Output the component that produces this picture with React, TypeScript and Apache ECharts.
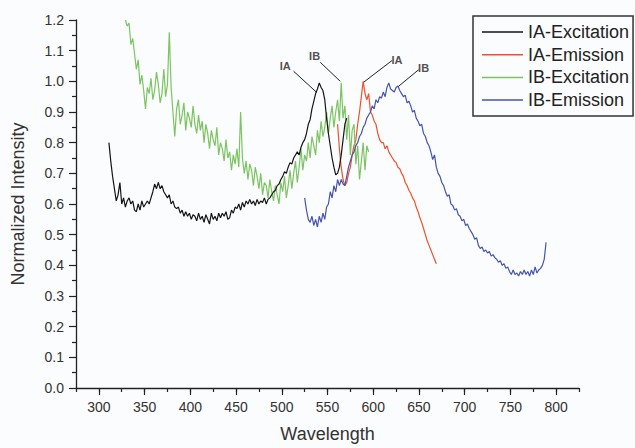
import React, { useEffect, useRef } from "react";
import * as echarts from "echarts";

// Sampling grids (start wavelength, step in nm)
const iaExStart = 311;
const ibExStart = 329;
const iaEmStart = 561;
const ibEmStart = 525;
const STEP = 2;

const iaExcitation = [
  0.80, 0.74, 0.69, 0.65, 0.61, 0.63, 0.67, 0.60, 0.62, 0.59, 0.61, 0.62, 0.60, 0.61, 0.58, 0.575,
  0.60, 0.58, 0.61, 0.59, 0.60, 0.61, 0.60, 0.62, 0.64, 0.665, 0.65, 0.67, 0.65, 0.66, 0.64, 0.63,
  0.62, 0.63, 0.60, 0.61, 0.59, 0.585, 0.59, 0.57, 0.58, 0.56, 0.575, 0.56, 0.57, 0.55, 0.565, 0.56,
  0.545, 0.57, 0.55, 0.56, 0.54, 0.565, 0.55, 0.535, 0.57, 0.55, 0.56, 0.545, 0.57, 0.555, 0.57, 0.56,
  0.575, 0.55, 0.555, 0.58, 0.57, 0.59, 0.585, 0.60, 0.58, 0.605, 0.59, 0.61, 0.60, 0.615, 0.60, 0.61,
  0.595, 0.615, 0.60, 0.61, 0.605, 0.62, 0.60, 0.615, 0.62, 0.63, 0.64, 0.645, 0.66, 0.665, 0.68, 0.69,
  0.705, 0.70, 0.72, 0.735, 0.73, 0.75, 0.76, 0.77, 0.76, 0.785, 0.80, 0.81, 0.83, 0.86, 0.875, 0.91,
  0.935, 0.96, 0.975, 0.995, 0.98, 0.97, 0.94, 0.88, 0.83, 0.79, 0.75, 0.72, 0.695, 0.70, 0.72, 0.76,
  0.81, 0.86, 0.88,
];

const iaEmission = [
  0.86, 0.78, 0.72, 0.68, 0.66, 0.67, 0.70, 0.72, 0.76, 0.79, 0.81, 0.86, 0.90, 0.95, 1.0, 0.96,
  0.94, 0.96, 0.90, 0.89, 0.87, 0.86, 0.83, 0.81, 0.80, 0.80, 0.78, 0.79, 0.77, 0.76, 0.75, 0.74,
  0.735, 0.72, 0.715, 0.70, 0.69, 0.67, 0.66, 0.645, 0.635, 0.62, 0.61, 0.59, 0.575, 0.555, 0.54, 0.52,
  0.50, 0.48, 0.465, 0.45, 0.435, 0.42, 0.405,
];

const ibExcitation = [
  1.20, 1.18, 1.19, 1.12, 1.14, 1.09, 1.04, 1.07, 0.99, 1.02, 0.97, 0.91, 0.98, 0.96, 1.01, 0.94,
  0.97, 1.03, 0.99, 0.93, 0.96, 1.04, 0.95, 0.99, 1.16, 0.98, 0.90, 0.82, 0.91, 0.94, 0.86, 0.89,
  0.93, 0.84, 0.90, 0.88, 0.85, 0.92, 0.86, 0.83, 0.89, 0.84, 0.87, 0.80, 0.86, 0.83, 0.78, 0.84,
  0.81, 0.79, 0.85, 0.76, 0.80, 0.78, 0.74, 0.81, 0.75, 0.77, 0.71, 0.76, 0.73, 0.78, 0.72, 0.90,
  0.75, 0.70, 0.74, 0.68, 0.73, 0.71, 0.66, 0.72, 0.69, 0.65, 0.70, 0.63, 0.67, 0.66, 0.62, 0.68,
  0.64, 0.61, 0.66, 0.63, 0.60, 0.67, 0.64, 0.69, 0.62, 0.66, 0.71, 0.65, 0.70, 0.74, 0.67, 0.72,
  0.78, 0.71, 0.76, 0.74, 0.80, 0.75, 0.82, 0.79, 0.76, 0.84, 0.80, 0.87, 0.82, 0.85, 0.90, 0.83,
  0.88, 0.92, 0.85, 0.90, 0.94, 0.87, 0.995, 0.88, 0.92, 0.81, 0.89, 0.76, 0.84, 0.86, 0.73, 0.79,
  0.68, 0.74, 0.80, 0.71, 0.79, 0.77,
];

const ibEmission = [
  0.62, 0.58, 0.55, 0.54, 0.56, 0.53, 0.55, 0.525, 0.56, 0.54, 0.57, 0.55, 0.59, 0.60, 0.64, 0.62,
  0.66, 0.64, 0.68, 0.66, 0.68, 0.665, 0.66, 0.69, 0.72, 0.74, 0.76, 0.77, 0.79, 0.80, 0.82, 0.83,
  0.85, 0.86, 0.88, 0.89, 0.90, 0.92, 0.91, 0.94, 0.93, 0.95, 0.945, 0.965, 0.95, 0.98, 0.995, 0.975,
  0.97, 0.965, 0.98, 0.985, 0.97, 0.96, 0.95, 0.955, 0.93, 0.935, 0.92, 0.90, 0.905, 0.88, 0.87, 0.855,
  0.86, 0.83, 0.82, 0.80, 0.79, 0.77, 0.745, 0.76, 0.72, 0.70, 0.69, 0.67, 0.66, 0.64, 0.625, 0.63,
  0.60, 0.595, 0.58, 0.585, 0.565, 0.56, 0.545, 0.55, 0.53, 0.535, 0.52, 0.51, 0.50, 0.485, 0.49, 0.465,
  0.455, 0.46, 0.445, 0.45, 0.44, 0.445, 0.43, 0.435, 0.425, 0.42, 0.41, 0.415, 0.40, 0.405, 0.39, 0.395,
  0.38, 0.37, 0.385, 0.37, 0.375, 0.365, 0.38, 0.37, 0.385, 0.37, 0.38, 0.365, 0.385, 0.37, 0.395, 0.375,
  0.385, 0.39, 0.40, 0.42, 0.475,
];

const seriesNames = ["IA-Excitation", "IA-Emission", "IB-Excitation", "IB-Emission"];
const seriesColors = ["#151515", "#f0502a", "#7cc462", "#4654ad"];

// Peak annotations: label positions and leader lines (data coordinates)
const annLabels = ["IA", "IB", "IA", "IB"];
const annPos = [
  [503.8, 1.051],
  [535.9, 1.083],
  [626.0, 1.07],
  [655.1, 1.044],
];
const annFrom = [
  [512.9, 1.033],
  [542.1, 1.062],
  [620.6, 1.068],
  [649.7, 1.038],
];
const annTo = [
  [538.5, 0.963],
  [564.0, 1.0],
  [589.5, 0.997],
  [627.8, 0.984],
];

const xMajorTicks = [300, 350, 400, 450, 500, 550, 600, 650, 700, 750, 800];

const toPairs = (start: number, vals: number[]) => vals.map((v, i) => [start + i * STEP, v]);

const FONT = "Liberation Sans, Arial, sans-serif";

export default function App() {
  const ref = useRef<HTMLDivElement>(null);
  useEffect(() => {
    if (!ref.current) return;
    const chart = echarts.init(ref.current, null, { renderer: "svg" });
    const data = [
      toPairs(iaExStart, iaExcitation),
      toPairs(iaEmStart, iaEmission),
      toPairs(ibExStart, ibExcitation),
      toPairs(ibEmStart, ibEmission),
    ];
    const lineSeries = seriesNames.map((name, i) => ({
      name,
      type: "line",
      data: data[i],
      showSymbol: false,
      symbol: "none",
      color: seriesColors[i],
      lineStyle: { color: seriesColors[i], width: 1.2 },
      z: i === 0 ? 5 : 3,
    }));
    chart.setOption({
      animation: false,
      backgroundColor: "#fbfcfd",
      textStyle: { fontFamily: FONT },
      grid: { left: 76, right: 56, top: 20, bottom: 57 },
      legend: {
        data: seriesNames,
        orient: "vertical",
        left: 473,
        top: 16,
        icon: "rect",
        itemWidth: 41,
        itemHeight: 1.5,
        itemGap: 2.7,
        padding: [6, 4, 6, 9],
        borderColor: "#333",
        borderWidth: 1.5,
        textStyle: { fontSize: 18, color: "#222", fontFamily: FONT, lineHeight: 20 },
        selectedMode: false,
      },
      xAxis: [
        {
          type: "value",
          min: 275,
          max: 825,
          interval: 25,
          name: "Wavelength",
          nameLocation: "middle",
          nameGap: 37,
          nameTextStyle: { fontSize: 18, color: "#333", fontFamily: FONT },
          axisLine: { lineStyle: { color: "#222", width: 1.3 } },
          axisTick: { show: true, length: 4, lineStyle: { color: "#222", width: 1.2 } },
          axisLabel: {
            margin: 12,
            fontSize: 14,
            color: "#333",
            fontFamily: FONT,
            formatter: (v: number) => (v % 50 === 0 ? String(v) : ""),
          },
          splitLine: { show: false },
        },
        {
          type: "value",
          min: 275,
          max: 825,
          interval: 25,
          position: "bottom",
          axisLine: { show: false },
          axisLabel: { show: false },
          axisTick: {
            show: true,
            length: 7,
            customValues: xMajorTicks,
            lineStyle: { color: "#222", width: 1.2 },
          },
          splitLine: { show: false },
        },
      ],
      yAxis: {
        type: "value",
        min: 0,
        max: 1.2,
        interval: 0.1,
        name: "Normalized Intensity",
        nameLocation: "middle",
        nameGap: 49,
        nameTextStyle: { fontSize: 18, color: "#333", fontFamily: FONT },
        axisLine: { show: true, lineStyle: { color: "#222", width: 1.3 } },
        axisTick: { show: true, length: 7, lineStyle: { color: "#222", width: 1.2 } },
        minorTick: { show: true, splitNumber: 2, length: 4, lineStyle: { color: "#222", width: 1.2 } },
        axisLabel: {
          margin: 12,
          fontSize: 14,
          color: "#333",
          fontFamily: FONT,
          formatter: (v: number) => v.toFixed(1),
        },
        splitLine: { show: false },
      },
      series: [
        ...lineSeries,
        {
          name: "annotations",
          type: "scatter",
          data: annPos,
          symbol: "circle",
          symbolSize: 1,
          itemStyle: { color: "rgba(0,0,0,0)" },
          silent: true,
          label: {
            show: true,
            position: "inside",
            formatter: (p: any) => annLabels[p.dataIndex],
            fontSize: 11,
            fontWeight: "bold",
            color: "#222",
            fontFamily: FONT,
          },
          markLine: {
            silent: true,
            symbol: ["none", "none"],
            label: { show: false },
            lineStyle: { color: "#222", width: 1, type: "solid" },
            data: annFrom.map((f, i) => [{ coord: f }, { coord: annTo[i] }]),
          },
          z: 6,
        },
      ],
    });
    return () => chart.dispose();
  }, []);
  return (
    <div
      ref={ref}
      style={{ position: "fixed", left: 0, top: 0, width: 635, height: 448 }}
    />
  );
}
